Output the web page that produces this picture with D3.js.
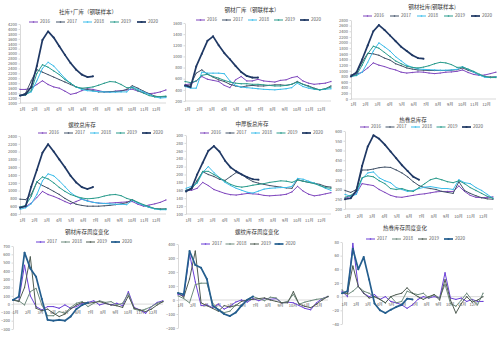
<!DOCTYPE html>
<html>
<head>
<meta charset="utf-8">
<script src="https://cdn.jsdelivr.net/npm/d3@7"></script>
<style>
  html, body { margin: 0; padding: 0; background: #fff; }
  svg { display: block; font-family: "Noto Sans CJK SC", "Noto Sans", sans-serif; }
</style>
</head>
<body>
<svg id="chart" width="500" height="345"></svg>
<script>
// ── Data: one value every 2 weeks, week 0 .. 52 ──
const STEP_WEEKS = 2;
const MONTHS = ["1月", "2月", "3月", "4月", "5月", "6月", "7月", "8月", "9月", "10月", "11月", "12月"];
const YEARS_STOCK  = ["2016", "2017", "2018", "2019", "2020"];
const YEARS_CHANGE = ["2017", "2018", "2019", "2020"];

// 社库+厂库（钢联样本）
const TOTAL_STOCK = [
  [1550,1550,1600,1750,1900,1750,1650,1600,1480,1350,1400,1500,1580,1550,1500,1450,1450,1480,1500,1530,1560,1480,1420,1380,1400,1450,1530],
  [1300,1400,1900,2350,2250,2150,2050,1950,1850,1750,1650,1580,1550,1500,1450,1450,1460,1470,1480,1550,1700,1600,1480,1380,1280,1240,1260],
  [1300,1350,1450,1900,2400,2650,2500,2250,2000,1800,1650,1550,1500,1480,1460,1450,1440,1440,1450,1450,1650,1550,1450,1350,1250,1200,1220],
  [1300,1320,1500,2200,2550,2450,2300,2150,1950,1800,1650,1600,1620,1650,1720,1800,1870,1850,1750,1620,1620,1500,1400,1300,1250,1260,1280],
  [1300,1350,1650,2500,3550,3900,3650,3300,2950,2620,2350,2150,2050,2080]
];

// 钢材厂库（钢联样本）
const FACTORY_STOCK = [
  [490,510,560,640,590,570,550,480,440,580,640,560,560,590,560,550,540,570,580,620,640,560,520,500,510,520,550],
  [470,490,700,760,680,630,580,550,500,470,450,470,480,470,470,480,490,490,480,500,550,500,470,430,400,420,470],
  [460,430,430,720,700,700,700,690,560,480,450,440,430,420,410,405,400,410,420,440,520,460,430,410,400,410,420],
  [550,530,560,660,680,640,610,570,540,520,510,510,500,500,490,480,470,470,480,500,540,500,460,420,400,420,450],
  [480,450,820,1050,1280,1360,1200,1060,950,830,720,650,620,620]
];

// 钢材社库(钢联样本)
const SOCIAL_STOCK = [
  [820,880,950,1100,1280,1200,1150,1080,1030,950,920,940,960,950,920,900,920,950,960,980,1030,940,870,840,850,900,950],
  [850,920,1300,1620,1600,1550,1450,1380,1250,1180,1100,1060,1030,1020,1010,1010,1010,1010,1020,1040,1100,1020,950,850,790,780,790],
  [800,830,950,1300,1700,1990,1850,1700,1500,1350,1200,1120,1070,1050,1040,1030,1020,1020,1030,1050,1150,1050,950,850,770,760,780],
  [800,850,1200,1600,1870,1800,1650,1500,1350,1250,1160,1120,1100,1130,1180,1250,1300,1280,1220,1120,1130,1060,980,880,800,760,760],
  [800,950,1400,1900,2400,2620,2450,2250,2050,1850,1700,1550,1450,1430]
];

// 螺纹总库存
const REBAR_STOCK = [
  [580,590,680,820,980,900,850,790,720,660,720,780,740,700,680,670,680,690,700,710,720,650,600,630,660,700,760],
  [780,770,900,1220,1130,1060,980,900,800,720,650,620,600,600,600,610,620,640,660,690,770,690,620,570,540,530,530],
  [520,560,660,900,1250,1430,1380,1250,1100,950,850,780,730,700,680,670,660,650,650,640,750,680,620,570,530,510,510],
  [580,620,850,1220,1350,1300,1200,1080,980,900,850,810,790,800,820,860,890,900,870,800,760,700,640,590,540,520,530],
  [560,600,1100,1530,1970,2190,2000,1800,1600,1380,1210,1090,1040,1090]
];

// 中厚板总库存
const PLATE_STOCK = [
  [160,160,165,180,172,162,157,152,149,148,150,152,151,150,147,146,147,148,150,156,170,158,150,146,148,151,154],
  [160,162,185,207,200,195,188,185,195,205,200,190,182,178,175,172,170,168,166,165,187,183,180,178,175,170,168],
  [165,170,178,205,220,205,192,180,172,165,160,155,153,158,163,165,166,167,167,170,190,188,183,178,172,165,160],
  [160,165,180,208,208,200,192,183,175,170,168,170,173,175,177,180,182,184,183,180,186,183,180,177,172,167,165],
  [157,165,200,230,260,272,258,235,218,208,200,193,188,187]
];

// 热卷总库存
const HRC_STOCK = [
  [255,265,280,330,325,320,300,285,270,262,260,265,270,275,278,283,288,290,290,290,318,290,270,260,258,260,262],
  [295,285,300,400,400,405,412,415,413,400,385,365,340,320,310,305,300,290,285,280,340,295,280,268,258,252,250],
  [275,265,275,355,385,390,360,345,335,310,300,290,295,305,312,315,310,305,305,300,350,335,330,310,295,275,255],
  [260,270,290,360,370,365,345,330,305,300,305,295,290,310,330,350,358,350,340,335,345,330,310,295,280,265,255],
  [250,255,295,420,520,578,560,530,495,460,425,395,365,350]
];

// 钢材库存周度变化
const STEEL_CHANGE = [
  [50,40,470,100,-30,-70,-30,-30,-50,-10,-50,-30,10,20,40,-10,10,-10,10,-20,150,-40,-70,-110,-30,20,40],
  [50,40,-10,150,190,-10,-140,-140,-90,-110,-40,10,30,-30,10,40,20,30,-10,10,130,-60,-80,-60,-30,10,30],
  [50,30,200,570,-50,-80,-60,-110,-150,-120,-60,-10,20,10,20,30,10,-10,-20,-40,100,-50,-70,-90,-60,-10,30],
  [50,90,620,430,330,60,-190,-200,-190,-200,-150,-60,-10,20]
];

// 螺纹库存周度变化
const REBAR_CHANGE = [
  [40,30,330,130,-40,-35,-55,-30,-65,-45,-15,0,-15,10,-5,10,5,10,-20,-15,-20,-40,-60,-70,-20,10,25],
  [30,10,-20,110,120,120,-20,-70,-90,-80,-35,-45,5,25,10,-5,20,15,-20,-10,40,-30,-15,-5,5,10,25],
  [50,20,150,350,-20,-40,-60,-80,-40,-50,-40,-10,0,5,10,15,0,-10,-20,-20,60,-30,-45,-55,-30,0,25],
  [50,40,350,250,230,150,-40,-70,-100,-115,-90,-40,0,25]
];

// 热卷库存周度变化
const HRC_CHANGE = [
  [8,0,78,15,5,0,3,-4,0,-7,-9,-12,-17,-12,-4,0,-2,0,-2,35,-2,-4,-2,-7,-4,-7,-7],
  [10,3,8,15,8,5,0,-4,-9,0,-9,-7,8,5,3,5,-2,3,-2,18,-10,-14,-5,5,-5,-12,5],
  [5,5,45,15,5,-2,0,-4,-9,0,3,5,13,5,0,-4,0,3,-5,25,-5,-24,-10,0,-8,-5,0],
  [5,8,70,40,58,25,-10,-20,-24,-19,-15,-12,-3,-4]
];

// ── Styles ──
const STOCK_COLORS  = ["#8048BE", "#44546A", "#3CBDEA", "#2A9B8C", "#1F3864"];
const STOCK_WIDTHS  = [1, 1, 1, 1, 1.7];
const CHANGE_COLORS = ["#6A3FD6", "#6F8C7E", "#4F5C52", "#245E8E"];
const CHANGE_WIDTHS = [1, 1, 1, 1.7];
const AXIS_COLOR = "#BFBFBF";
const TEXT_COLOR = "#595959";

const PANELS = [
  { title: "社库+厂库（钢联样本）", data: TOTAL_STOCK, kind: "stock", domain: [1000, 4200], step: 200,
    left: 20, right: 166, top: 24, bottom: 103, labelY: 110, titleX: 88, titleY: 12, legendX: 29, legendY: 22, legendGap: 27 },
  { title: "钢材厂库（钢联样本）", data: FACTORY_STOCK, kind: "stock", domain: [200, 1600], step: 200,
    left: 185, right: 331, top: 23, bottom: 101, labelY: 110, titleX: 252, titleY: 10, legendX: 196, legendY: 20, legendGap: 26 },
  { title: "钢材社库(钢联样本)", data: SOCIAL_STOCK, kind: "stock", domain: [0, 2800], step: 200,
    left: 351, right: 496, top: 20, bottom: 99, labelY: 105, titleX: 432, titleY: 7, legendX: 363, legendY: 16, legendGap: 27 },
  { title: "螺纹总库存", data: REBAR_STOCK, kind: "stock", domain: [400, 2400], step: 200,
    left: 20, right: 166, top: 136, bottom: 214, labelY: 221, titleX: 82, titleY: 125, legendX: 38, legendY: 133, legendGap: 26 },
  { title: "中厚板总库存", data: PLATE_STOCK, kind: "stock", domain: [100, 300], step: 20,
    left: 186, right: 331, top: 135, bottom: 214, labelY: 221, titleX: 252, titleY: 124, legendX: 200, legendY: 133, legendGap: 25.5 },
  { title: "热卷总库存", data: HRC_STOCK, kind: "stock", domain: [200, 600], step: 50,
    left: 345, right: 493, top: 131, bottom: 209, labelY: 217, titleX: 413, titleY: 120, legendX: 360, legendY: 127, legendGap: 25.5 },
  { title: "钢材库存周度变化", data: STEEL_CHANGE, kind: "change", domain: [-300, 700], step: 100,
    left: 13, right: 163, top: 246, bottom: 329, labelY: 313, titleX: 87, titleY: 232, legendX: 36, legendY: 242, legendGap: 25 },
  { title: "螺纹库存周度变化", data: REBAR_CHANGE, kind: "change", domain: [-200, 400], step: 100,
    left: 178, right: 328, top: 244, bottom: 328, labelY: 306, titleX: 257, titleY: 232, legendX: 201, legendY: 244, legendGap: 24.5 },
  { title: "热卷库存周度变化", data: HRC_CHANGE, kind: "change", domain: [-40, 80], step: 20,
    left: 342, right: 483, top: 242, bottom: 324, labelY: 305, titleX: 405, titleY: 228, legendX: 366, legendY: 239, legendGap: 26 }
];

const svg = d3.select("#chart");
PANELS.forEach(p => renderPanel(svg, p));

// ─────────────────────────────────────────────────────────
// One small multiple
// ─────────────────────────────────────────────────────────
function renderPanel(svg, p) {
  const isChange = p.kind === "change";
  const years  = isChange ? YEARS_CHANGE : YEARS_STOCK;
  const colors = isChange ? CHANGE_COLORS : STOCK_COLORS;
  const widths = isChange ? CHANGE_WIDTHS : STOCK_WIDTHS;

  const g = svg.append("g");

  const x = d3.scaleLinear().domain([0, 52]).range([p.left, p.right]);
  const y = d3.scaleLinear().domain(p.domain).range([p.bottom, p.top]);

  // ── Y axis (no thousands separator, as in the original) ──
  const yTicks = d3.range(p.domain[0], p.domain[1] + p.step / 2, p.step);
  g.append("g")
    .attr("transform", `translate(${p.left},0)`)
    .call(d3.axisLeft(y).tickValues(yTicks).tickFormat(d3.format("d"))
      .tickSize(1.5).tickPadding(1.5).tickSizeOuter(0))
    .call(a => a.select(".domain").attr("stroke", AXIS_COLOR).attr("stroke-width", 0.6))
    .call(a => a.selectAll(".tick line").attr("stroke", AXIS_COLOR).attr("stroke-width", 0.6))
    .call(a => a.selectAll(".tick text").attr("fill", TEXT_COLOR))
    .attr("font-size", 4)
    .attr("font-family", null);

  // ── X axis line: at zero for weekly change, at bottom otherwise ──
  const baseY = isChange ? y(0) : p.bottom;
  g.append("line")
    .attr("x1", p.left).attr("x2", p.right)
    .attr("y1", baseY).attr("y2", baseY)
    .attr("stroke", AXIS_COLOR)
    .attr("stroke-width", 0.6);

  MONTHS.forEach((m, i) => {
    g.append("text")
      .attr("x", x(i * 52 / 12) + 2.5)
      .attr("y", p.labelY)
      .attr("text-anchor", "middle")
      .attr("dominant-baseline", "middle")
      .attr("font-size", 4)
      .attr("fill", TEXT_COLOR)
      .text(m);
  });

  // ── Series ──
  const lineGen = d3.line()
    .x((d, i) => x(i * STEP_WEEKS))
    .y(d => y(d));

  p.data.forEach((vals, k) => {
    g.append("path")
      .datum(vals)
      .attr("fill", "none")
      .attr("stroke", colors[k])
      .attr("stroke-width", widths[k])
      .attr("stroke-linejoin", "round")
      .attr("d", lineGen);

    g.selectAll(null)
      .data(vals)
      .enter().append("circle")
      .attr("cx", (d, i) => x(i * STEP_WEEKS))
      .attr("cy", d => y(d))
      .attr("r", widths[k] > 1 ? 1 : 0.65)
      .attr("fill", colors[k]);
  });

  // ── Title ──
  g.append("text")
    .attr("x", p.titleX)
    .attr("y", p.titleY)
    .attr("text-anchor", "middle")
    .attr("dominant-baseline", "middle")
    .attr("font-size", 5.5)
    .attr("fill", "#333")
    .text(p.title);

  // ── Legend ──
  years.forEach((yr, k) => {
    const lx = p.legendX + k * p.legendGap;
    g.append("line")
      .attr("x1", lx).attr("x2", lx + 9)
      .attr("y1", p.legendY).attr("y2", p.legendY)
      .attr("stroke", colors[k])
      .attr("stroke-width", widths[k]);
    g.append("circle")
      .attr("cx", lx + 4.5).attr("cy", p.legendY)
      .attr("r", widths[k] > 1 ? 1.1 : 0.8)
      .attr("fill", colors[k]);
    g.append("text")
      .attr("x", lx + 11)
      .attr("y", p.legendY)
      .attr("dominant-baseline", "middle")
      .attr("font-size", 4.5)
      .attr("fill", TEXT_COLOR)
      .text(yr);
  });
}
</script>
</body>
</html>
